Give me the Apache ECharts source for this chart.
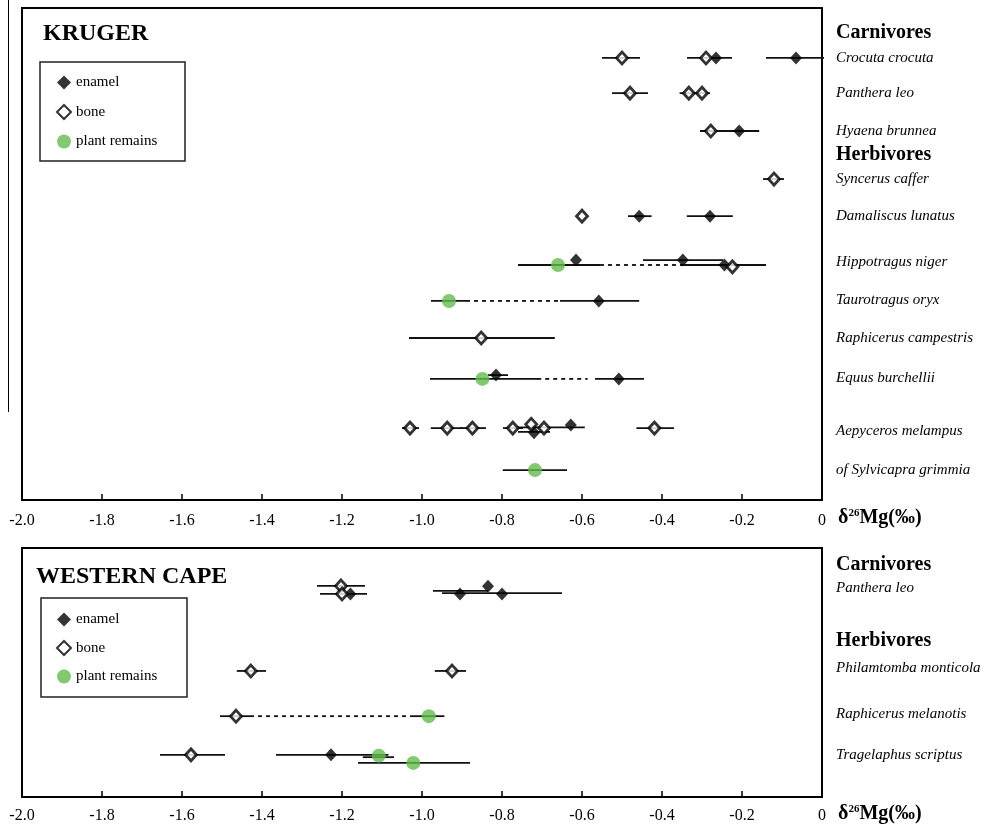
<!DOCTYPE html>
<html><head><meta charset="utf-8">
<script src="https://cdn.jsdelivr.net/npm/echarts@6/dist/echarts.min.js"></script>
<style>html,body{margin:0;padding:0;background:#fff}#c{width:997px;height:827px}</style>
</head><body><div id="c"></div><script>
// ---- axis ----
const xMin = -2.0, xMax = 0, xStep = 0.2;
const tickLabels = ['-2.0','-1.8','-1.6','-1.4','-1.2','-1.0','-0.8','-0.6','-0.4','-0.2','0'];

// ---- KRUGER (row positions in row units, 0 at top) ----
const krugerHeaders = ['Carnivores', 'Herbivores'];
const krugerHeaderPos = [0.66, 3.88];
const krugerSpecies = ['Crocuta crocuta','Panthera leo','Hyaena brunnea','Syncerus caffer','Damaliscus lunatus',
  'Hippotragus niger','Taurotragus oryx','Raphicerus campestris','Equus burchellii','Aepyceros melampus','of Sylvicapra grimmia'];
const krugerSpeciesPos = [1.32, 2.25, 3.25, 4.52, 5.50, 6.71, 7.72, 8.72, 9.78, 11.18, 12.21];
const krugerEnamel = [[-0.265,1.32],[-0.065,1.32],[-0.207,3.25],[-0.457,5.50],[-0.28,5.50],
  [-0.615,6.66],[-0.348,6.66],[-0.244,6.79],[-0.558,7.74],[-0.815,9.70],[-0.508,9.80],[-0.72,11.22],[-0.628,11.02]];
const krugerBone = [[-0.50,1.32],[-0.29,1.32],[-0.48,2.25],[-0.333,2.25],[-0.30,2.25],[-0.278,3.25],[-0.12,4.52],
  [-0.60,5.50],[-0.224,6.84],[-0.852,8.72],[-1.03,11.10],[-0.937,11.10],[-0.874,11.10],[-0.773,11.10],
  [-0.727,11.0],[-0.695,11.10],[-0.419,11.10]];
const krugerPlant = [[-0.66,6.79],[-0.9325,7.74],[-0.849,9.80],[-0.7175,12.21]];
const krugerBars = [[-0.55,-0.455,1.32],[-0.3375,-0.225,1.32],[-0.14,0.005,1.32],
  [-0.525,-0.435,2.25],[-0.356,-0.28,2.25],[-0.305,-0.157,3.25],[-0.1475,-0.095,4.52],
  [-0.485,-0.426,5.50],[-0.338,-0.223,5.50],
  [-0.76,-0.555,6.79],[-0.4475,-0.2475,6.66],[-0.35,-0.14,6.79],
  [-0.9775,-0.89,7.74],[-0.655,-0.457,7.74],[-1.0325,-0.668,8.72],
  [-0.98,-0.71,9.80],[-0.835,-0.785,9.70],[-0.5675,-0.445,9.80],
  [-1.05,-1.0075,11.10],[-0.978,-0.898,11.10],[-0.905,-0.84,11.10],[-0.7975,-0.7475,11.10],
  [-0.772,-0.593,11.08],[-0.76,-0.68,11.2],[-0.464,-0.37,11.10],[-0.798,-0.6375,12.21]];
const krugerDashed = [[-0.555,-0.35,6.79],[-0.89,-0.655,7.74],[-0.712,-0.586,9.80]];

// ---- WESTERN CAPE ----
const capeHeaders = ['Carnivores', 'Herbivores'];
const capeHeaderPos = [0.44, 2.43];
const capeSpecies = ['Panthera leo','Philamtomba monticola','Raphicerus melanotis','Tragelaphus scriptus'];
const capeSpeciesPos = [1.04, 3.13, 4.33, 5.40];
const capeEnamel = [[-1.179,1.20],[-0.905,1.20],[-0.835,1.00],[-0.80,1.20],[-1.2275,5.40]];
const capeBone = [[-1.2025,0.99],[-1.20,1.20],[-1.428,3.21],[-0.925,3.21],[-1.465,4.39],[-1.5775,5.40]];
const capePlant = [[-0.983,4.39],[-1.108,5.42],[-1.0217,5.61]];
const capeBars = [[-1.2625,-1.1425,0.99],[-1.255,-1.1375,1.20],[-0.9725,-0.835,1.12],[-0.95,-0.65,1.18],
  [-1.463,-1.39,3.21],[-0.968,-0.89,3.21],[-1.505,-1.43,4.39],[-1.0225,-0.944,4.39],
  [-1.655,-1.4925,5.40],[-1.365,-1.084,5.40],[-1.148,-1.07,5.46],[-1.16,-0.88,5.61]];
const capeDashed = [[-1.43,-1.0225,4.39]];

const FONT = 'Liberation Serif';
const GREEN = '#63bb4c';

function barRenderer(dash) {
  return function (params, api) {
    const a = api.coord([api.value(0), api.value(2)]);
    const b = api.coord([api.value(1), api.value(2)]);
    return { type: 'line', shape: { x1: a[0], y1: a[1], x2: b[0], y2: b[1] },
      style: { stroke: '#111', lineWidth: 1.8, lineDash: dash ? [4, 4] : null } };
  };
}

function panelSeries(g, bars, dashed, enamel, bone, plant, headers, headerPos, species, speciesPos) {
  return [
    { type: 'custom', name: 'bars' + g, xAxisIndex: g, yAxisIndex: g, renderItem: barRenderer(false),
      encode: { x: [0, 1], y: 2 }, data: bars, z: 2, silent: true },
    { type: 'custom', name: 'dashed' + g, xAxisIndex: g, yAxisIndex: g, renderItem: barRenderer(true),
      encode: { x: [0, 1], y: 2 }, data: dashed, z: 2, silent: true },
    { type: 'scatter', name: 'enamel', xAxisIndex: g, yAxisIndex: g, data: enamel, symbol: 'diamond',
      symbolSize: [12, 13], itemStyle: { color: '#000' }, z: 4 },
    { type: 'scatter', name: 'bone', xAxisIndex: g, yAxisIndex: g, data: bone, symbol: 'diamond',
      symbolSize: [11, 12], itemStyle: { color: '#fff', borderColor: '#000', borderWidth: 2.8 }, z: 4 },
    { type: 'scatter', name: 'plant remains', xAxisIndex: g, yAxisIndex: g, data: plant, symbol: 'circle',
      symbolSize: 14, itemStyle: { color: GREEN }, z: 5 },
    { type: 'scatter', name: 'headers' + g, xAxisIndex: g, yAxisIndex: g, symbolSize: 0, clip: false, silent: true,
      itemStyle: { color: '#000', opacity: 1 },
      data: headers.map((n, i) => ({ name: n, value: [0, headerPos[i]] })),
      label: { show: true, position: 'right', distance: 14, formatter: '{b}', color: '#000', opacity: 1,
        fontFamily: FONT, fontWeight: 'bold', fontSize: 20 } },
    { type: 'scatter', name: 'species' + g, xAxisIndex: g, yAxisIndex: g, symbolSize: 0, clip: false, silent: true,
      itemStyle: { color: '#000', opacity: 1 },
      data: species.map((n, i) => ({ name: n, value: [0, speciesPos[i]] })),
      label: { show: true, position: 'right', distance: 14, formatter: '{b}', color: '#000', opacity: 1,
        fontFamily: FONT, fontStyle: 'italic', fontSize: 15 } }
  ];
}

function xAxisFor(g, margin) {
  return { type: 'value', gridIndex: g, min: xMin, max: xMax, interval: xStep, position: 'bottom',
    axisLine: { show: true, onZero: false, lineStyle: { color: '#000', width: 2 } },
    axisTick: { show: true, inside: true, length: 6, lineStyle: { color: '#000', width: 1.5 } },
    axisLabel: { margin: margin, color: '#000', fontFamily: FONT, fontSize: 16,
      formatter: v => tickLabels[Math.round((v - xMin) / xStep)] },
    splitLine: { show: false } };
}

const legendData = ['enamel', 'bone', 'plant remains'];
function legendFor(top, gap) {
  return { orient: 'vertical', left: 51, top: top, itemGap: gap, itemWidth: 14, itemHeight: 14,
    data: legendData, selectedMode: false,
    textStyle: { fontFamily: FONT, fontSize: 15, color: '#000' } };
}

const axisName = {
  text: '{a|δ}{s|26}{a|Mg(‰)}',
  rich: { a: { fontFamily: FONT, fontWeight: 'bold', fontSize: 20, fill: '#000' },
          s: { fontFamily: FONT, fontWeight: 'bold', fontSize: 11, fill: '#000', verticalAlign: 'top', padding: [0, 0, 8, 0] } }
};

const chart = echarts.init(document.getElementById('c'), null, { renderer: 'canvas' });
chart.setOption({
  animation: false,
  backgroundColor: '#fff',
  title: [
    { text: 'KRUGER', left: 38, top: 17, textStyle: { fontFamily: FONT, fontWeight: 'bold', fontSize: 24, color: '#000' } },
    { text: 'WESTERN CAPE', left: 31, top: 560, textStyle: { fontFamily: FONT, fontWeight: 'bold', fontSize: 24, color: '#000' } }
  ],
  legend: [legendFor(70, 14), legendFor(607, 13)],
  grid: [
    { left: 22, width: 800, top: 8, height: 492, show: true, borderColor: '#000', borderWidth: 2, backgroundColor: 'transparent' },
    { left: 22, width: 800, top: 548, height: 249, show: true, borderColor: '#000', borderWidth: 2, backgroundColor: 'transparent' }
  ],
  xAxis: [xAxisFor(0, 13), xAxisFor(1, 11)],
  yAxis: [
    { type: 'value', gridIndex: 0, min: 0, max: 13, inverse: true, show: false },
    { type: 'value', gridIndex: 1, min: 0, max: 6.5, inverse: true, show: false }
  ],
  graphic: [
    { type: 'line', shape: { x1: 8.5, y1: 0, x2: 8.5, y2: 412 }, style: { stroke: '#000', lineWidth: 1 } },
    { type: 'rect', shape: { x: 40, y: 62, width: 145, height: 99 }, style: { fill: 'none', stroke: '#222', lineWidth: 1.5 } },
    { type: 'rect', shape: { x: 41, y: 598, width: 146, height: 99 }, style: { fill: 'none', stroke: '#222', lineWidth: 1.5 } },
    { type: 'text', left: 838, top: 508, style: Object.assign({}, axisName) },
    { type: 'text', left: 838, top: 804, style: Object.assign({}, axisName) }
  ],
  series: [].concat(
    panelSeries(0, krugerBars, krugerDashed, krugerEnamel, krugerBone, krugerPlant, krugerHeaders, krugerHeaderPos, krugerSpecies, krugerSpeciesPos),
    panelSeries(1, capeBars, capeDashed, capeEnamel, capeBone, capePlant, capeHeaders, capeHeaderPos, capeSpecies, capeSpeciesPos)
  )
});
</script></body></html>
